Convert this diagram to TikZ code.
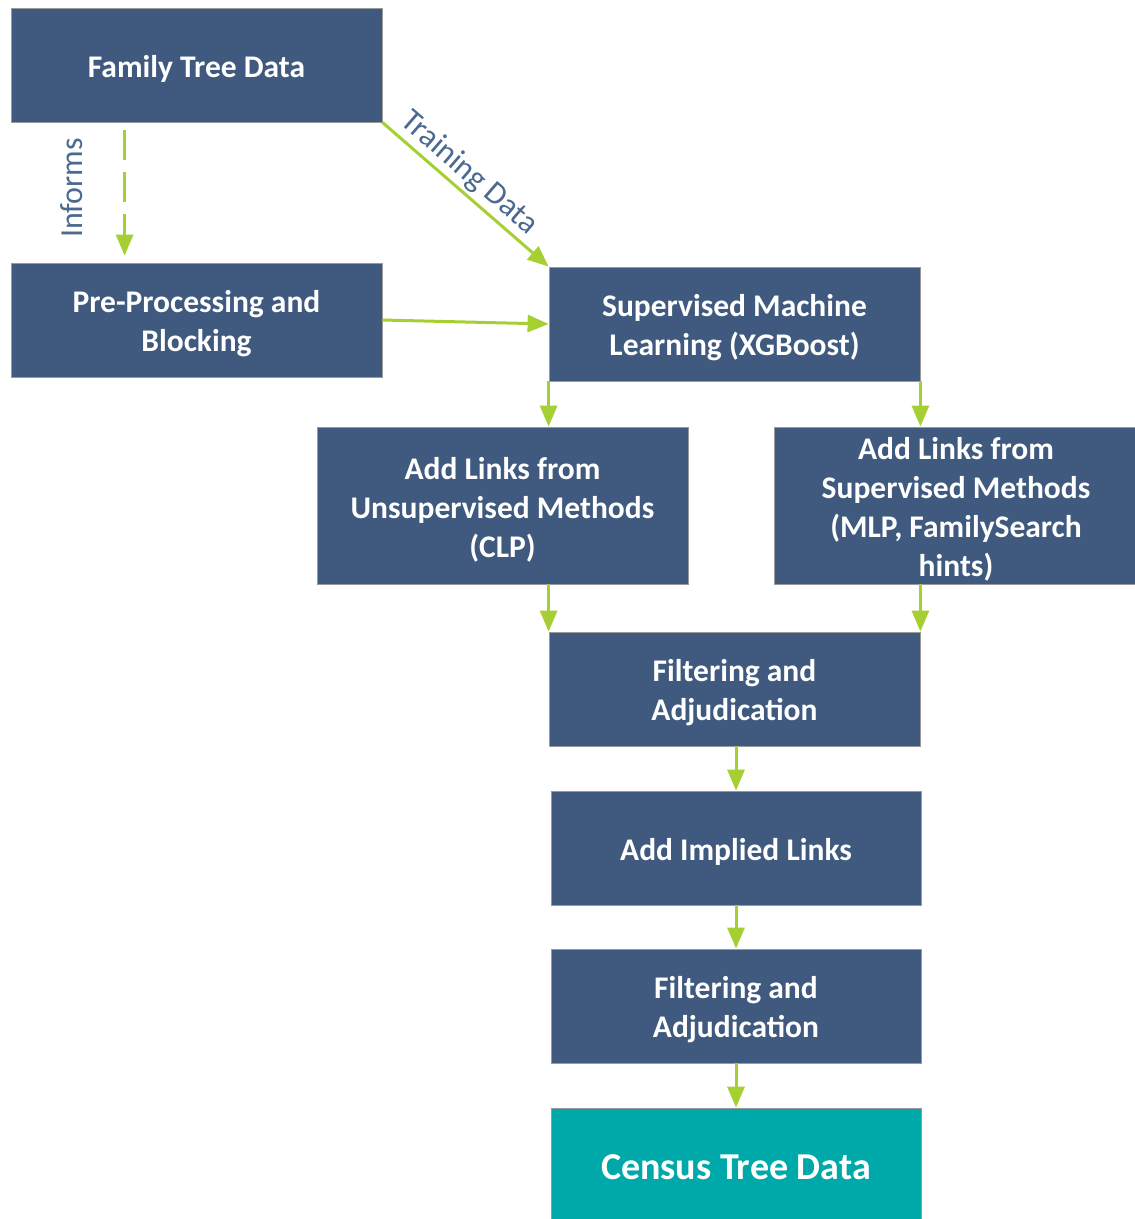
\documentclass[tikz,border=0pt]{standalone}
\usepackage{fontspec}
\setmainfont{Carlito}
\usetikzlibrary{arrows.meta,calc}
\definecolor{boxblue}{HTML}{3F5A7E}
\definecolor{tealbox}{HTML}{00A9A9}
\definecolor{arrowgreen}{HTML}{A5CF32}
\definecolor{labelblue}{HTML}{4A6A90}
\newcommand{\tstr}{\rule{0pt}{30pt}}
\begin{document}
\begin{tikzpicture}[x=1pt,y=-1pt,
  box/.style={draw=gray!80, line width=0.8pt, fill=boxblue, text=white,
    font=\bfseries\fontsize{31.5}{39}\selectfont, align=center,
    minimum width=371pt, minimum height=114pt, inner sep=0pt},
  conn/.style={draw=arrowgreen, line width=3pt, -{Triangle[length=21pt,width=17pt]}},
  lbl/.style={text=labelblue, font=\fontsize{32}{36}\selectfont, inner sep=2pt}]
\useasboundingbox (0,0) rectangle (1135,1219);

\node[box] (family) at (196.5,65) {\tstr Family Tree Data};
\node[box] (pre) at (196.5,320) {\tstr Pre-Processing and\\Blocking};
\node[box] (sml) at (734.5,324) {\tstr Supervised Machine\\Learning (XGBoost)};
\node[box, minimum height=157pt] (unsup) at (502.5,505.5) {\tstr Add Links from\\Unsupervised Methods\\(CLP)};
\node[box, minimum height=157pt, minimum width=364pt] (sup) at (956,505.5) {\tstr Add Links from\\Supervised Methods\\(MLP, FamilySearch\\hints)};
\node[box] (filt1) at (734.5,689) {\tstr Filtering and\\Adjudication};
\node[box, minimum width=370pt] (implied) at (736,848) {\tstr Add Implied Links};
\node[box, minimum width=370pt] (filt2) at (736,1006) {\tstr Filtering and\\Adjudication};
\node[box, minimum width=370pt, fill=tealbox, font=\bfseries\fontsize{38}{44}\selectfont] (census) at (736,1165) {\tstr Census Tree Data};

% connectors
\draw[conn, dash pattern=on 30pt off 12pt] ([xshift=114pt,yshift=-8pt]family.south west) -- ([xshift=114pt,yshift=7pt]pre.north west);
\node[lbl, rotate=90] (informs) at (72,188) {Informs};

\draw[conn] (family.south east) -- (sml.north west)
  node[pos=0.45, sloped, above, lbl, yshift=1pt] (train) {Training Data};
\draw[conn] (pre.east) -- (sml.west);

\draw[conn] (sml.south west) -- (sml.south west |- unsup.north);
\draw[conn] (sml.south east) -- (sml.south east |- sup.north);
\draw[conn] (filt1.north west |- unsup.south) -- (filt1.north west);
\draw[conn] (filt1.north east |- sup.south) -- (filt1.north east);
\draw[conn] (implied.north |- filt1.south) -- (implied.north);
\draw[conn] (implied.south) -- (filt2.north);
\draw[conn] (filt2.south) -- (census.north);
\end{tikzpicture}
\end{document}
